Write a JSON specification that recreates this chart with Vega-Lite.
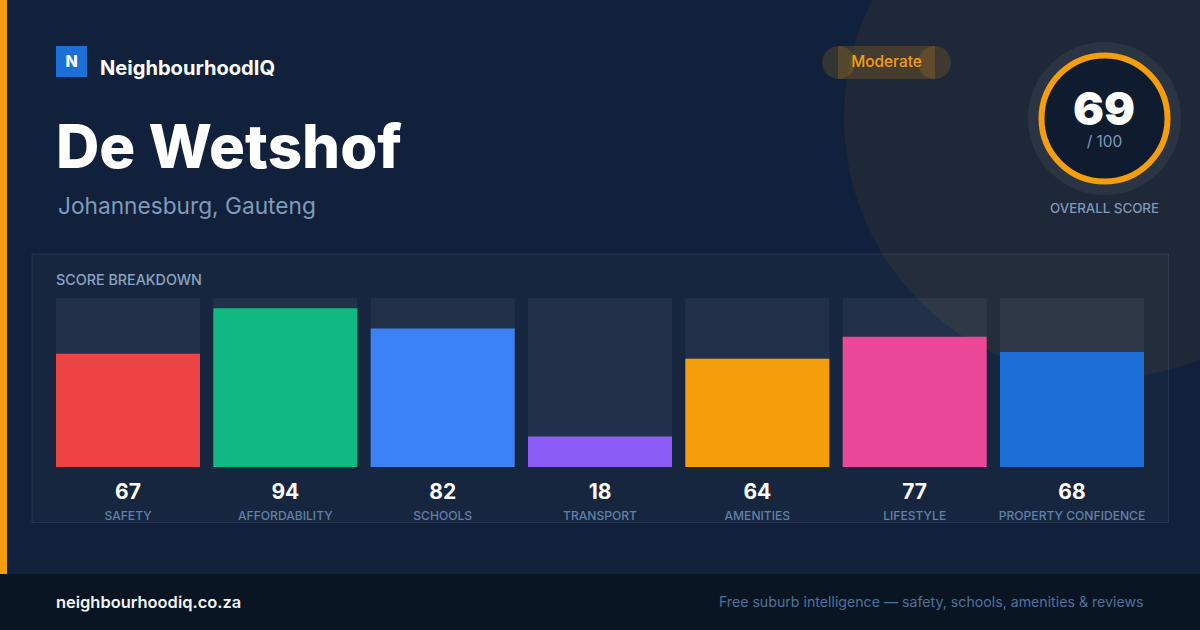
{"$schema":"https://vega.github.io/schema/vega-lite/v6.json","width":1088,"height":169,"autosize":"none","padding":{"left":56,"top":298,"right":56,"bottom":163},"background":"#11213b","config":{"view":{"stroke":null},"text":{"font":"Inter"}},
"datasets":{"scores":[{"category":"SAFETY","score":67},{"category":"AFFORDABILITY","score":94},{"category":"SCHOOLS","score":82},{"category":"TRANSPORT","score":18},{"category":"AMENITIES","score":64},{"category":"LIFESTYLE","score":77},{"category":"PROPERTY CONFIDENCE","score":68}],"one":[{}]},
"data":{"name":"scores"},
"layer":[
{"data":{"name":"one"},"mark":{"type":"point","filled":true,"opacity":0.06,"color":"#f59e0b","size":270400,"x":1048,"y":-180},"encoding":{}},
{"data":{"name":"one"},"mark":{"type":"rect","x":-24,"x2":1112.5,"y":-44,"y2":224.5,"fill":"#ffffff","fillOpacity":0.025,"stroke":"#ffffff","strokeOpacity":0.08,"strokeWidth":1},"encoding":{}},
{"mark":{"type":"bar","color":"#ffffff","opacity":0.055},"encoding":{"x":{"field":"category","type":"nominal","sort":null,"scale":{"paddingInner":0.0847,"paddingOuter":0},"axis":{"title":null,"domain":false,"ticks":false,"grid":false,"labelAngle":0,"labelFont":"Inter","labelFontSize":12.1,"labelFontWeight":500,"labelColor":"#5d7fa6","labelPadding":42,"labelOverlap":false,"labelLimit":300}},"y":{"datum":100,"type":"quantitative","scale":{"domain":[0,100]},"axis":null}}},
{"data":{"name":"one"},"mark":{"type":"rule","x":-32,"x2":1144,"y":-273.5,"stroke":"#ffffff","strokeDash":[1,31],"opacity":0.05},"encoding":{}},
{"data":{"name":"one"},"mark":{"type":"rule","x":-32,"x2":1144,"y":-241.5,"stroke":"#ffffff","strokeDash":[1,31],"opacity":0.05},"encoding":{}},
{"data":{"name":"one"},"mark":{"type":"rule","x":-32,"x2":1144,"y":-209.5,"stroke":"#ffffff","strokeDash":[1,31],"opacity":0.05},"encoding":{}},
{"data":{"name":"one"},"mark":{"type":"rule","x":-32,"x2":1144,"y":-177.5,"stroke":"#ffffff","strokeDash":[1,31],"opacity":0.05},"encoding":{}},
{"data":{"name":"one"},"mark":{"type":"rule","x":-32,"x2":1144,"y":-145.5,"stroke":"#ffffff","strokeDash":[1,31],"opacity":0.05},"encoding":{}},
{"data":{"name":"one"},"mark":{"type":"rule","x":-32,"x2":1144,"y":-113.5,"stroke":"#ffffff","strokeDash":[1,31],"opacity":0.05},"encoding":{}},
{"data":{"name":"one"},"mark":{"type":"rule","x":-32,"x2":1144,"y":-81.5,"stroke":"#ffffff","strokeDash":[1,31],"opacity":0.05},"encoding":{}},
{"data":{"name":"one"},"mark":{"type":"rule","x":-32,"x2":1144,"y":-49.5,"stroke":"#ffffff","strokeDash":[1,31],"opacity":0.05},"encoding":{}},
{"data":{"name":"one"},"mark":{"type":"rule","x":-32,"x2":1144,"y":-17.5,"stroke":"#ffffff","strokeDash":[1,31],"opacity":0.05},"encoding":{}},
{"data":{"name":"one"},"mark":{"type":"rule","x":-32,"x2":1144,"y":14.5,"stroke":"#ffffff","strokeDash":[1,31],"opacity":0.05},"encoding":{}},
{"data":{"name":"one"},"mark":{"type":"rule","x":-32,"x2":1144,"y":46.5,"stroke":"#ffffff","strokeDash":[1,31],"opacity":0.05},"encoding":{}},
{"data":{"name":"one"},"mark":{"type":"rule","x":-32,"x2":1144,"y":78.5,"stroke":"#ffffff","strokeDash":[1,31],"opacity":0.05},"encoding":{}},
{"data":{"name":"one"},"mark":{"type":"rule","x":-32,"x2":1144,"y":110.5,"stroke":"#ffffff","strokeDash":[1,31],"opacity":0.05},"encoding":{}},
{"data":{"name":"one"},"mark":{"type":"rule","x":-32,"x2":1144,"y":142.5,"stroke":"#ffffff","strokeDash":[1,31],"opacity":0.05},"encoding":{}},
{"data":{"name":"one"},"mark":{"type":"rule","x":-32,"x2":1144,"y":174.5,"stroke":"#ffffff","strokeDash":[1,31],"opacity":0.05},"encoding":{}},
{"data":{"name":"one"},"mark":{"type":"rule","x":-32,"x2":1144,"y":206.5,"stroke":"#ffffff","strokeDash":[1,31],"opacity":0.05},"encoding":{}},
{"data":{"name":"one"},"mark":{"type":"rule","x":-32,"x2":1144,"y":238.5,"stroke":"#ffffff","strokeDash":[1,31],"opacity":0.05},"encoding":{}},
{"data":{"name":"one"},"mark":{"type":"rule","x":-32,"x2":1144,"y":270.5,"stroke":"#ffffff","strokeDash":[1,31],"opacity":0.05},"encoding":{}},
{"mark":{"type":"bar"},"encoding":{"x":{"field":"category","type":"nominal","sort":null},"y":{"field":"score","type":"quantitative"},"color":{"field":"category","type":"nominal","legend":null,"scale":{"domain":["SAFETY","AFFORDABILITY","SCHOOLS","TRANSPORT","AMENITIES","LIFESTYLE","PROPERTY CONFIDENCE"],"range":["#ef4444","#10b981","#3b82f6","#8b5cf6","#f59e0b","#ec4899","#1d6fd8"]}}}},
{"mark":{"type":"text","font":"Inter","fontSize":21,"fontWeight":700,"color":"#ffffff","baseline":"alphabetic","align":"center","y":201},"encoding":{"x":{"field":"category","type":"nominal","sort":null},"text":{"field":"score","type":"quantitative"}}},
{"data":{"name":"one"},"mark":{"type":"rect","x":-56,"x2":-49,"y":-298,"y2":276,"fill":"#f59e0b"},"encoding":{}},
{"data":{"name":"one"},"mark":{"type":"rect","x":-56,"x2":1144,"y":276,"y2":332,"fill":"#0a1524"},"encoding":{}},
{"data":{"name":"one"},"mark":{"type":"rule","x":-56,"x2":1144,"y":276.5,"stroke":"#16202f"},"encoding":{}},
{"data":{"name":"one"},"mark":{"type":"rect","x":0,"x2":31,"y":-252,"y2":-221,"fill":"#1d6fd8"},"encoding":{}},
{"data":{"values":[{"t":"N"}]},"mark":{"type":"text","font":"Inter","fontSize":16,"fontWeight":800,"color":"#ffffff","align":"center","baseline":"alphabetic","x":15.5,"y":-231},"encoding":{"text":{"field":"t"}}},
{"data":{"values":[{"t":"NeighbourhoodIQ"}]},"mark":{"type":"text","font":"Inter","fontSize":20.1,"fontWeight":700,"color":"#ffffff","align":"left","baseline":"alphabetic","x":44,"y":-223},"encoding":{"text":{"field":"t"}}},
{"data":{"values":[{"t":"De Wetshof"}]},"mark":{"type":"text","font":"Inter","fontSize":60,"fontWeight":800,"color":"#ffffff","align":"left","baseline":"alphabetic","x":0,"y":-130},"encoding":{"text":{"field":"t"}}},
{"data":{"values":[{"t":"Johannesburg, Gauteng"}]},"mark":{"type":"text","font":"Inter","fontSize":22.7,"fontWeight":400,"color":"#7f9bba","align":"left","baseline":"alphabetic","x":2,"y":-84},"encoding":{"text":{"field":"t"}}},
{"data":{"values":[{"t":"SCORE BREAKDOWN"}]},"mark":{"type":"text","font":"Inter","fontSize":14.3,"fontWeight":500,"color":"#8ba3c0","align":"left","baseline":"alphabetic","x":0,"y":-13},"encoding":{"text":{"field":"t"}}},
{"data":{"name":"one"},"mark":{"type":"point","filled":true,"opacity":0.15,"color":"#f59e0b","size":1089,"x":782.5,"y":-235.5},"encoding":{}},
{"data":{"name":"one"},"mark":{"type":"point","filled":true,"opacity":0.15,"color":"#f59e0b","size":1089,"x":878.5,"y":-235.5},"encoding":{}},
{"data":{"name":"one"},"mark":{"type":"rect","x":782,"x2":879,"y":-252,"y2":-219,"fill":"#f59e0b","opacity":0.18},"encoding":{}},
{"data":{"values":[{"t":"Moderate"}]},"mark":{"type":"text","font":"Inter","fontSize":15.4,"fontWeight":500,"color":"#f59e0b","align":"center","baseline":"alphabetic","x":830.5,"y":-231},"encoding":{"text":{"field":"t"}}},
{"data":{"name":"one"},"mark":{"type":"point","filled":true,"color":"#ffffff","opacity":0.06,"size":23409,"x":1048.5,"y":-179.5},"encoding":{}},
{"data":{"name":"one"},"mark":{"type":"point","filled":true,"color":"#0f1b2e","opacity":1,"size":15876,"x":1048.5,"y":-179.5},"encoding":{}},
{"data":{"name":"one"},"mark":{"type":"point","filled":false,"color":"#f59e0b","opacity":1,"strokeWidth":6,"size":15876,"x":1048.5,"y":-179.5},"encoding":{}},
{"data":{"values":[{"overall":69}]},"mark":{"type":"text","font":"Inter","fontSize":46,"fontWeight":900,"color":"#ffffff","align":"center","baseline":"alphabetic","x":1048,"y":-173},"encoding":{"text":{"field":"overall","type":"quantitative"}}},
{"data":{"values":[{"t":"/ 100"}]},"mark":{"type":"text","font":"Inter","fontSize":15.4,"fontWeight":400,"color":"#7f9ab8","align":"center","baseline":"alphabetic","x":1048.5,"y":-151},"encoding":{"text":{"field":"t"}}},
{"data":{"values":[{"t":"OVERALL SCORE"}]},"mark":{"type":"text","font":"Inter","fontSize":13.3,"fontWeight":500,"color":"#7f9ab8","align":"center","baseline":"alphabetic","x":1048.5,"y":-85},"encoding":{"text":{"field":"t"}}},
{"data":{"values":[{"t":"neighbourhoodiq.co.za"}]},"mark":{"type":"text","font":"Inter","fontSize":16.45,"fontWeight":600,"color":"#f0f4f8","align":"left","baseline":"alphabetic","x":0,"y":310},"encoding":{"text":{"field":"t"}}},
{"data":{"values":[{"t":"Free suburb intelligence — safety, schools, amenities & reviews"}]},"mark":{"type":"text","font":"Inter","fontSize":14.17,"fontWeight":400,"color":"#4f7299","align":"right","baseline":"alphabetic","x":1087.5,"y":309},"encoding":{"text":{"field":"t"}}}
]}
